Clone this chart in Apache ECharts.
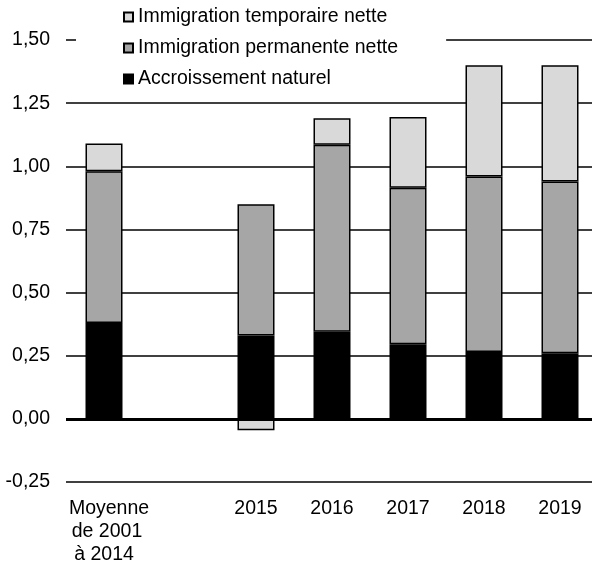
<!DOCTYPE html>
<html>
<head>
<meta charset="utf-8">
<script src="https://cdn.jsdelivr.net/npm/echarts@6/dist/echarts.min.js"></script>
<style>
html,body{margin:0;padding:0;background:#fff;}
#chart{width:592px;height:563px;}
</style>
</head>
<body>
<div id="chart"></div>
<script>
const categories = ['Moyenne\nde 2001\nà 2014', '', '2015', '2016', '2017', '2018', '2019'];
const naturel = [0.38, '-', 0.33, 0.345, 0.295, 0.265, 0.26];
const permanente = [0.60, '-', 0.52, 0.74, 0.62, 0.695, 0.68];
const temporaire = [0.11, '-', -0.045, 0.105, 0.28, 0.44, 0.46];
const seriesNames = ['Accroissement naturel', 'Immigration permanente nette', 'Immigration temporaire nette'];
const yTicks = { min: -0.25, max: 1.5, interval: 0.25 };

const FONT = 'Liberation Sans';
const chart = echarts.init(document.getElementById('chart'));
const barCommon = {
  type: 'bar', stack: 'total', barWidth: 37
};
const linePads = [10, 6, 0];
chart.setOption({
  animation: false,
  textStyle: { fontFamily: FONT },
  grid: { left: 66, right: -6, top: 40, bottom: 81, outerBoundsMode: 'none' },
  legend: {
    orient: 'vertical', left: 76, top: 3,
    padding: [4, 48, 4, 47],
    backgroundColor: '#fff',
    itemWidth: 9, itemHeight: 9, itemGap: 11, textStyle: { fontSize: 19.5, color: '#000', fontFamily: FONT },
    data: [seriesNames[2], seriesNames[1], seriesNames[0]],
    icon: 'rect'
  },
  xAxis: {
    type: 'category', data: categories,
    axisLine: { show: false }, axisTick: { show: false },
    axisLabel: { interval: 0, margin: 15, fontSize: 19.5, color: '#000', lineHeight: 23, fontFamily: FONT,
      formatter: v => v.indexOf('\n') < 0 ? v : v.split('\n').map((s, i) => '{p' + i + '|' + s + '}').join('\n'),
      rich: {
        p0: { padding: [0, 0, 0, linePads[0]], fontSize: 19.5, lineHeight: 23, color: '#000' },
        p1: { padding: [0, 0, 0, linePads[1]], fontSize: 19.5, lineHeight: 23, color: '#000' },
        p2: { padding: [0, 0, 0, linePads[2]], fontSize: 19.5, lineHeight: 23, color: '#000' }
      } }
  },
  yAxis: {
    type: 'value', min: yTicks.min, max: yTicks.max, interval: yTicks.interval,
    axisLine: { show: false }, axisTick: { show: false },
    splitLine: { lineStyle: { color: '#000', width: 1.5 } },
    axisLabel: { margin: 16, fontSize: 19.5, color: '#000', fontFamily: FONT,
      formatter: v => v.toFixed(2).replace('.', ',') }
  },
  series: [
    Object.assign({}, barCommon, { name: seriesNames[0], data: naturel,
      itemStyle: { color: '#000', borderColor: '#000', borderWidth: 1.5 },
      markLine: { silent: true, symbol: 'none', label: { show: false },
        lineStyle: { color: '#000', width: 3, type: 'solid' }, data: [{ yAxis: 0 }] } }),
    Object.assign({}, barCommon, { name: seriesNames[1], data: permanente,
      itemStyle: { color: '#a6a6a6', borderColor: '#000', borderWidth: 1.5 } }),
    Object.assign({}, barCommon, { name: seriesNames[2], data: temporaire,
      itemStyle: { color: '#d9d9d9', borderColor: '#000', borderWidth: 1.5 } })
  ]
});
</script>
</body>
</html>
